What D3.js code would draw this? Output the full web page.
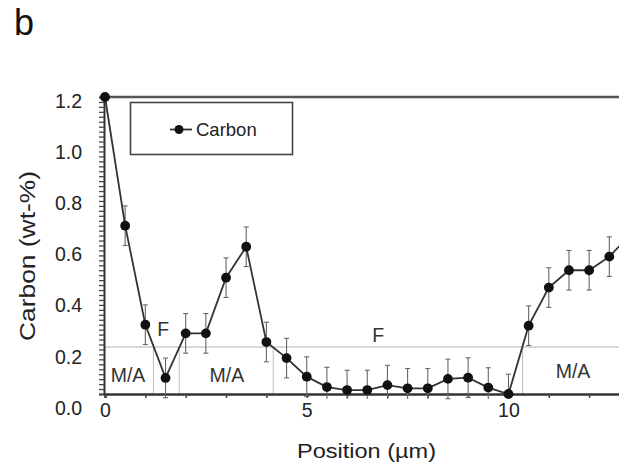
<!DOCTYPE html>
<html>
<head>
<meta charset="utf-8">
<script src="https://cdn.jsdelivr.net/npm/d3@7"></script>
<style>
  html, body { margin: 0; padding: 0; background: #fff; }
  svg { display: block; }
  text { font-family: "Liberation Sans", Arial, Helvetica, sans-serif; fill: #222; }
</style>
</head>
<body>
<svg id="chart" width="619" height="463"></svg>
<script>
// ---- data ----
const positions = [0, 0.5, 1, 1.5, 2, 2.5, 3, 3.5, 4, 4.5, 5, 5.5, 6, 6.5, 7, 7.5, 8, 8.5, 9, 9.5, 10, 10.5, 11, 11.5, 12, 12.5, 13];
const carbon    = [1.2, 0.68, 0.28, 0.065, 0.245, 0.245, 0.47, 0.595, 0.21, 0.145, 0.07, 0.028, 0.016, 0.016, 0.036, 0.023, 0.023, 0.061, 0.066, 0.026, 0.0, 0.276, 0.43, 0.50, 0.50, 0.555, 0.64];
const errors    = [0, 0.08, 0.08, 0.08, 0.08, 0.08, 0.08, 0.08, 0.08, 0.08, 0.08, 0.08, 0.08, 0.08, 0.08, 0.08, 0.08, 0.08, 0.08, 0.08, 0.08, 0.08, 0.08, 0.08, 0.08, 0.08, 0.08];
const yTickLabels = [0, 0.2, 0.4, 0.6, 0.8, 1.0, 1.2];
const xTickLabels = [0, 5, 10];
const threshold = 0.19;
const boundaries = [1.2, 1.84, 4.17, 10.35];
const phaseLabels = [
  { text: "M/A", x: 0.57, y: 0.048 },
  { text: "M/A", x: 3.02, y: 0.048 },
  { text: "M/A", x: 11.6, y: 0.065 },
  { text: "F",   x: 1.44, y: 0.234 },
  { text: "F",   x: 6.77, y: 0.211 }
];
const seriesName = "Carbon";

// ---- layout ----
const svg = d3.select("#chart");
const W = 619, H = 463;
svg.append("rect").attr("width", W).attr("height", H).attr("fill", "#fff");

const x = d3.scaleLinear().domain([0, 13]).range([105, 629.5]);
const y = d3.scaleLinear().domain([0, 1.2]).range([394, 97]);
const yLab = d3.scaleLinear().domain([0, 1.2]).range([408, 101]);

const plotRight = W;

// threshold line & boundaries
svg.append("line")
  .attr("x1", x(0)).attr("x2", plotRight)
  .attr("y1", y(threshold)).attr("y2", y(threshold))
  .attr("stroke", "#b4b4b4").attr("stroke-width", 1.2);
svg.selectAll(".bnd").data(boundaries).join("line")
  .attr("x1", d => x(d)).attr("x2", d => x(d))
  .attr("y1", y(threshold)).attr("y2", y(0))
  .attr("stroke", "#bbbbbb").attr("stroke-width", 1);

// phase labels
svg.selectAll(".ph").data(phaseLabels).join("text")
  .attr("x", d => x(d.x)).attr("y", d => y(d.y))
  .attr("text-anchor", "middle")
  .attr("font-size", 19.5)
  .style("fill", "#333")
  .text(d => d.text);

// top frame line
svg.append("line")
  .attr("x1", x(0)).attr("x2", plotRight)
  .attr("y1", y(1.2)).attr("y2", y(1.2))
  .attr("stroke", "#555").attr("stroke-width", 2.5);

// y axis (minor ticks)
const yAxis = d3.axisLeft(y).tickValues(d3.range(0, 1.2001, 0.02)).tickSize(5).tickFormat("");
const gy = svg.append("g").attr("transform", `translate(${x(0) - 1},0)`).call(yAxis);
gy.select(".domain").attr("stroke", "#333").attr("stroke-width", 2);
gy.selectAll(".tick line").attr("stroke", "#444").attr("stroke-width", 1.3);

// y tick labels
const yLabAxis = d3.axisLeft(yLab).tickValues(yTickLabels).tickSize(0).tickPadding(0).tickFormat(d3.format(".1f"));
const gyl = svg.append("g").attr("transform", "translate(82,0)").call(yLabAxis);
gyl.select(".domain").remove();
gyl.selectAll("text").attr("font-size", 19.5).style("font-family", '"Liberation Sans", Arial, sans-serif').style("fill", "#222");

// x axis
const xAxis = d3.axisBottom(x).tickValues(d3.range(0, 13, 1)).tickSize(4).tickFormat("");
const gx = svg.append("g").attr("transform", `translate(0,${y(0)})`).call(xAxis);
gx.select(".domain").attr("stroke", "#333").attr("stroke-width", 2.5);
gx.selectAll(".tick line").attr("stroke", "#444").attr("stroke-width", 1.5);

const xLabAxis = d3.axisBottom(x).tickValues(xTickLabels).tickSize(0).tickPadding(0).tickFormat(d3.format("d"));
const gxl = svg.append("g").attr("transform", `translate(0,${y(0) + 9})`).call(xLabAxis);
gxl.select(".domain").remove();
gxl.selectAll("text").attr("font-size", 19.5).style("font-family", '"Liberation Sans", Arial, sans-serif').style("fill", "#222");

// error bars
const data = positions.map((p, i) => ({ p, v: carbon[i], e: errors[i] }));
const eb = svg.append("g").attr("stroke", "#666").attr("stroke-width", 1.1);
const withErr = data.filter(d => d.e > 0);
eb.selectAll(".ev").data(withErr).join("line")
  .attr("x1", d => x(d.p)).attr("x2", d => x(d.p))
  .attr("y1", d => y(d.v + d.e)).attr("y2", d => y(Math.max(d.v - d.e, -0.02)));
eb.selectAll(".et").data(withErr).join("line")
  .attr("x1", d => x(d.p) - 2.5).attr("x2", d => x(d.p) + 2.5)
  .attr("y1", d => y(d.v + d.e)).attr("y2", d => y(d.v + d.e));
eb.selectAll(".eb").data(withErr.filter(d => d.v - d.e > -0.02)).join("line")
  .attr("x1", d => x(d.p) - 2.5).attr("x2", d => x(d.p) + 2.5)
  .attr("y1", d => y(d.v - d.e)).attr("y2", d => y(d.v - d.e));

// line
svg.append("path").datum(data)
  .attr("fill", "none").attr("stroke", "#333").attr("stroke-width", 1.8)
  .attr("d", d3.line().x(d => x(d.p)).y(d => y(d.v)));

// points
svg.selectAll(".pt").data(data).join("circle")
  .attr("cx", d => x(d.p)).attr("cy", d => y(d.v)).attr("r", 4.9)
  .attr("fill", "#111");

// legend
svg.append("rect")
  .attr("x", 130.5).attr("y", 102.5).attr("width", 162).attr("height", 52)
  .attr("fill", "#fff").attr("stroke", "#444").attr("stroke-width", 1.6);
svg.append("line").attr("x1", 170).attr("x2", 192).attr("y1", 129.5).attr("y2", 129.5)
  .attr("stroke", "#333").attr("stroke-width", 1.8);
svg.append("circle").attr("cx", 179).attr("cy", 129.5).attr("r", 4.5).attr("fill", "#111");
svg.append("text").attr("x", 196).attr("y", 136).attr("font-size", 18.5).style("fill", "#222").text(seriesName);

// axis titles
svg.append("text")
  .attr("transform", "translate(35,256) rotate(-90)")
  .attr("text-anchor", "middle")
  .attr("font-size", 22.5)
  .attr("textLength", 170).attr("lengthAdjust", "spacingAndGlyphs")
  .text("Carbon (wt-%)");
svg.append("text")
  .attr("x", 297).attr("y", 458)
  .attr("font-size", 21)
  .attr("textLength", 139).attr("lengthAdjust", "spacingAndGlyphs")
  .text("Position (µm)");

// panel letter
svg.append("text").attr("x", 14).attr("y", 35).attr("font-size", 36).style("fill", "#111").text("b");
</script>
</body>
</html>
